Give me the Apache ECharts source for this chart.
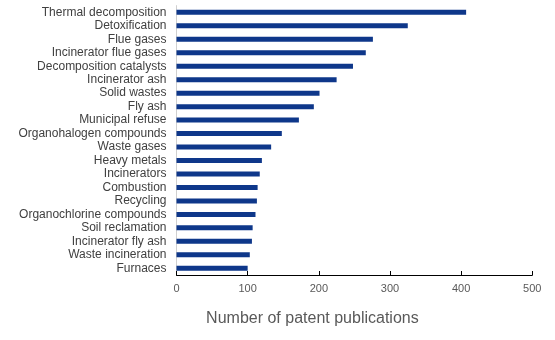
<!DOCTYPE html>
<html>
<head>
<meta charset="utf-8">
<script src="https://cdn.jsdelivr.net/npm/echarts@6/dist/echarts.min.js"></script>
<style>
  html, body { margin: 0; padding: 0; background: #ffffff; }
  #chart { width: 555px; height: 340px; }
</style>
</head>
<body>
<div id="chart"></div>
<script>
// Patent publication counts by topic (listed top to bottom)
const categories = [
  'Thermal decomposition', 'Detoxification', 'Flue gases', 'Incinerator flue gases',
  'Decomposition catalysts', 'Incinerator ash', 'Solid wastes', 'Fly ash',
  'Municipal refuse', 'Organohalogen compounds', 'Waste gases', 'Heavy metals',
  'Incinerators', 'Combustion', 'Recycling', 'Organochlorine compounds',
  'Soil reclamation', 'Incinerator fly ash', 'Waste incineration', 'Furnaces'
];
const publications = [
  407, 325, 276, 266, 248, 225, 201, 193, 172, 148,
  133, 120, 117, 114, 113, 111, 107, 106, 103, 100
];
const xTicks = { min: 0, max: 500, interval: 100 };
const xAxisTitle = 'Number of patent publications';

const chart = echarts.init(document.getElementById('chart'), null, { renderer: 'canvas' });

chart.setOption({
  animation: false,
  backgroundColor: '#ffffff',
  grid: { left: 176.5, right: 22.7, top: 5.6, bottom: 65 },
  xAxis: {
    type: 'value',
    min: xTicks.min,
    max: xTicks.max,
    interval: xTicks.interval,
    splitLine: { show: false },
    axisLine: { show: true, lineStyle: { color: '#000000', width: 1 } },
    axisTick: { show: true, inside: true, length: 4, lineStyle: { color: '#000000' } },
    axisLabel: { color: '#595959', fontFamily: 'Liberation Sans, Arial', fontSize: 11, margin: 8 },
    name: xAxisTitle,
    nameLocation: 'middle',
    nameGap: 36,
    nameTextStyle: {
      color: '#595959', fontFamily: 'Liberation Sans, Arial', fontSize: 16,
      padding: [0, 84, 0, 0]
    }
  },
  yAxis: {
    type: 'category',
    data: categories.slice().reverse(),
    axisLine: { show: true, lineStyle: { color: '#d0d0d0', width: 1 } },
    axisTick: { show: false },
    axisLabel: {
      interval: 0, hideOverlap: false,
      color: '#404040', fontFamily: 'Liberation Sans, Arial', fontSize: 12, margin: 10
    },
    splitLine: { show: false }
  },
  series: [{
    type: 'bar',
    data: publications.slice().reverse(),
    barWidth: 5,
    itemStyle: { color: '#0e378a' }
  }]
});
</script>
</body>
</html>
